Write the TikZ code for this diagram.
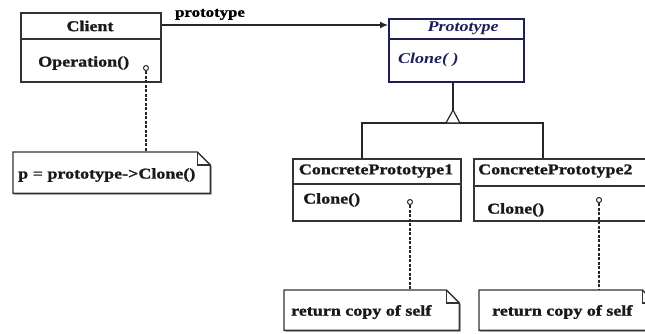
\documentclass[tikz,border=0pt]{standalone}
\usepackage{fontspec}
\setmainfont{Liberation Serif}[FakeStretch=1.2, BoldFeatures={FakeBold=1.2}]
\usetikzlibrary{shadows,arrows.meta,calc}
\definecolor{boxc}{HTML}{333333}
\definecolor{navy}{HTML}{1E1E5A}
\begin{document}
\begin{tikzpicture}[x=1pt,y=-1pt,
  box/.style={draw=boxc, line width=1.5pt, fill=white, anchor=north west, inner sep=0pt,
    drop shadow={shadow xshift=1.3pt, shadow yshift=-1.3pt, fill=black!45, opacity=1}},
  divline/.style={draw=boxc, line width=1.3pt},
  conn/.style={draw=black!85, line width=1.2pt},
  dashconn/.style={draw=black!85, line width=1.2pt, dashed, dash pattern=on 3pt off 1.5pt},
  notebox/.style={draw=none, anchor=north west, inner sep=0pt},
  noteline/.style={draw=boxc, line width=1.4pt, fill=white,
    drop shadow={shadow xshift=1.3pt, shadow yshift=-1.3pt, fill=black!45, opacity=1}},
  knob/.style={circle, draw=black!85, line width=1pt, fill=white, inner sep=0pt, minimum size=5pt},
  txt/.style={font=\fontsize{15}{18}\selectfont\bfseries, inner sep=0pt, text=black!90},
  lbl/.style={font=\fontsize{14}{16}\selectfont\bfseries, inner sep=0pt},
  ptxt/.style={font=\fontsize{15}{18}\selectfont\bfseries\itshape, inner sep=0pt, text=navy}
]
\useasboundingbox (0,0) rectangle (645,333);
\clip (0,0) rectangle (645,333);

% Client
\node[box, minimum width=140pt, minimum height=69pt] (client) at (20,12) {};
\draw[divline] (client.west |- 0,39) -- (client.east |- 0,39);
\node[txt] (clientT) at (90,26) {Client};
\node[txt, anchor=west] (clientOp) at (38,63) {Operation()};
\node[knob] (k0) at (146,68) {};

% Prototype
\node[box, draw=navy, minimum width=135pt, minimum height=63pt] (proto) at (388,18) {};
\draw[divline, draw=navy] (proto.west |- 0,39) -- (proto.east |- 0,39);
\node[ptxt] (protoT) at (463,28) {Prototype};
\node[ptxt, anchor=west] (protoOp) at (398,60) {Clone( )};

% Concrete prototypes
\node[box, minimum width=168pt, minimum height=62pt] (cp1) at (292,158) {};
\draw[divline] (cp1.west |- 0,184) -- (cp1.east |- 0,184);
\node[txt] (cp1T) at (376,171) {ConcretePrototype1};
\node[txt, anchor=west] (cp1Op) at (303,200) {Clone()};
\node[knob] (k1) at (410,202) {};

\node[box, minimum width=185pt, minimum height=62pt] (cp2) at (473,158) {};
\draw[divline] (cp2.west |- 0,186) -- (cp2.east |- 0,186);
\node[txt, anchor=west] (cp2T) at (478,171) {ConcretePrototype2};
\node[txt, anchor=west] (cp2Op) at (487,210) {Clone()};
\node[knob] (k2) at (599,200) {};

% Notes
\node[notebox, minimum width=197pt, minimum height=41pt] (n0) at (13,152) {};
\node[notebox, minimum width=175pt, minimum height=40pt] (n1) at (284,290) {};
\node[notebox, minimum width=176pt, minimum height=40pt] (n2) at (479,290) {};
\foreach \n in {n0,n1,n2}{
  \draw[noteline] (\n.north west) -- ($(\n.north east)+(-13,0)$) -- ($(\n.north east)+(0,13)$)
     -- (\n.south east) -- (\n.south west) -- cycle;
  \draw[draw=boxc, line width=1.1pt] ($(\n.north east)+(-13,0)$) -- ++(0,13) -- ++(13,0);
}
\node[txt, anchor=west] (n0T) at (18,175) {p = prototype->Clone()};
\node[txt, anchor=west] (n1T) at (291,312) {return copy of self};
\node[txt, anchor=west] (n2T) at (492,312) {return copy of self};

% Dashed note links
\draw[dashconn] (k0.south) -- (k0.south |- n0.north);
\draw[dashconn] (k1.south) -- (k1.south |- n1.north);
\draw[dashconn] (k2.south) -- (k2.south |- n2.north);

% Association
\draw[conn, -{Latex[length=8pt,width=7pt]}] (client.north east) ++(0,13) coordinate (a0) -- (a0 -| proto.west);
\node[lbl, anchor=south west] (assocL) at (175,20) {prototype};

% Inheritance
\coordinate (apex) at (453,110);
\coordinate (bus) at (453,123);
\coordinate (s1) at ($(cp1.north west)+(70,0)$);
\coordinate (s2) at ($(cp2.north west)+(70,0)$);
\draw[conn] (apex |- proto.south) -- (apex);
\draw[conn] (s1) -- (s1 |- bus) -- (s2 |- bus) -- (s2);
\draw[conn, fill=white] (apex) -- ++(-7,13) -- ++(14,0) -- cycle;
\end{tikzpicture}
\end{document}
